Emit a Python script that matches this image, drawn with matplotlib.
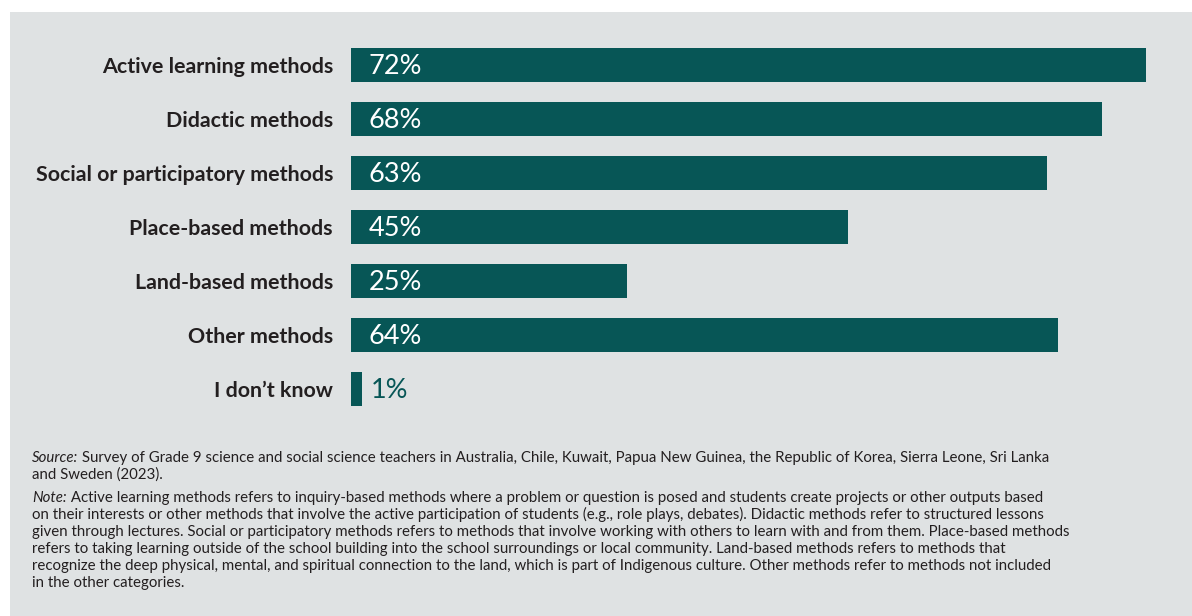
import matplotlib.pyplot as plt
from matplotlib.patches import Rectangle

plt.rcParams['font.family'] = ['Lato', 'DejaVu Sans']

categories = ["Active learning methods", "Didactic methods", "Social or participatory methods",
              "Place-based methods", "Land-based methods", "Other methods", "I don\u2019t know"]
values = [72, 68, 63, 45, 25, 64, 1]

source_lines = [
    ("Source:", " Survey of Grade 9 science and social science teachers in Australia, Chile, Kuwait, Papua New Guinea, the Republic of Korea, Sierra Leone, Sri Lanka"),
    ("", "and Sweden (2023)."),
]
note_lines = [
    ("Note:", " Active learning methods refers to inquiry-based methods where a problem or question is posed and students create projects or other outputs based"),
    ("", "on their interests or other methods that involve the active participation of students (e.g., role plays, debates). Didactic methods refer to structured lessons"),
    ("", "given through lectures. Social or participatory methods refers to methods that involve working with others to learn with and from them. Place-based methods"),
    ("", "refers to taking learning outside of the school building into the school surroundings or local community. Land-based methods refers to methods that"),
    ("", "recognize the deep physical, mental, and spiritual connection to the land, which is part of Indigenous culture. Other methods refer to methods not included"),
    ("", "in the other categories."),
]

bar_col = "#075656"
bg_col = "#dfe2e3"
txt_col = "#231f20"

W, H = 1192, 616
fig = plt.figure(figsize=(W / 100, H / 100), dpi=100)
fig.patch.set_facecolor("white")
fig.patches.append(Rectangle((10 / W, 0), 1 - 10 / W, 1 - 12 / H, transform=fig.transFigure,
                             facecolor=bg_col, edgecolor="none", zorder=-5))

# axes: x starts at px 351, 11.04 px per percent
ax = fig.add_axes([351 / W, 1 - 416 / H, (W - 351) / W, 378 / H])
ax.set_zorder(3)
ax.set_facecolor("none")
ax.set_xlim(0, (W - 351) / 11.04)
ax.set_ylim(len(categories) - 0.5, -0.5)
ax.barh(range(len(categories)), values, height=0.63, color=bar_col)
for s in ax.spines.values():
    s.set_visible(False)
ax.set_xticks([])
ax.set_yticks(range(len(categories)))
ax.set_yticklabels(categories, fontsize=15.4, fontweight="bold", color=txt_col)
ax.tick_params(axis="y", length=0, pad=13)
for lab in ax.get_yticklabels():
    lab.set_y(lab.get_position()[1])

for i, v in enumerate(values):
    if v > 5:
        ax.text(1.6, i + 0.03, f"{v}%", color="white", fontsize=19.5, va="center", ha="left")
    else:
        ax.text(v + 0.75, i + 0.03, f"{v}%", color=bar_col, fontsize=19.5, va="center", ha="left")

# footnotes
fig.canvas.draw()
r = fig.canvas.get_renderer()
y = 462
x0 = 32
for lines, gap in ((source_lines, 0), (note_lines, 6)):
    y += gap
    for it, rest in lines:
        x = x0
        if it:
            t = fig.text(x / W, 1 - y / H, it, style="italic", fontsize=10.8, color=txt_col, va="baseline")
            x += t.get_window_extent(r).width
        fig.text(x / W, 1 - y / H, rest, fontsize=10.8, color=txt_col, va="baseline")
        y += 17

fig.savefig("out.png", dpi=100, facecolor="white")
